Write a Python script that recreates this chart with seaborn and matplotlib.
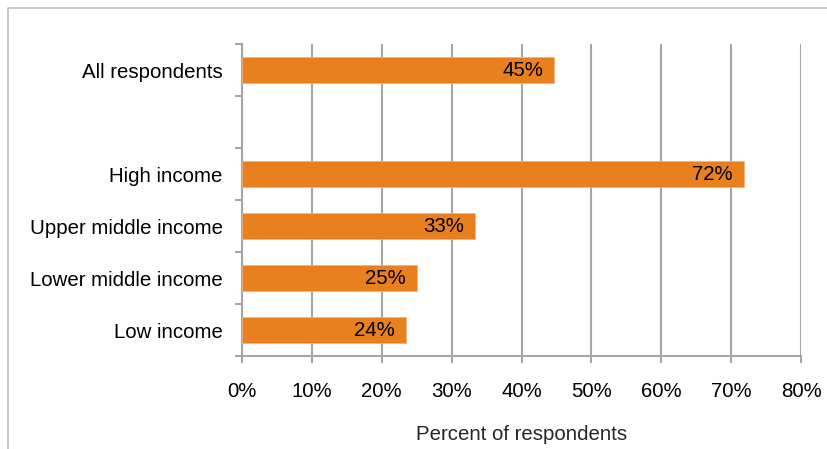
import matplotlib
matplotlib.use("Agg")
import matplotlib.pyplot as plt
import seaborn as sns
import pandas as pd
import numpy as np
from matplotlib.lines import Line2D
from matplotlib.ticker import FixedLocator, PercentFormatter

categories = ["All respondents", " ", "High income", "Upper middle income",
              "Lower middle income", "Low income"]
bar_categories = ["All respondents", "High income", "Upper middle income",
                  "Lower middle income", "Low income"]
values = [44.7, 71.8, 33.4, 25.0, 23.5]
labels = ["45%", "72%", "33%", "25%", "24%"]
xticks = [0, 10, 20, 30, 40, 50, 60, 70, 80]

sns.set_style("white")
plt.rcParams['font.family'] = ['Liberation Sans', 'DejaVu Sans']

df = pd.DataFrame({"category": bar_categories, "value": values})

fig = plt.figure(figsize=(8.27, 4.49), dpi=100)
ax = fig.add_axes([242/827, 1-356/449, (801-242)/827, (356-44)/449])

sns.barplot(data=df, y="category", x="value", order=categories, orient="h",
            color="#E8801F", saturation=1, width=0.5, ax=ax, zorder=3,
            edgecolor="#F2B27A", linewidth=0.6)

ax.set_xlim(0, 80)
ax.set_ylim(5.5, -0.5)
ax.set_xticks(xticks)
ax.xaxis.set_major_formatter(PercentFormatter(decimals=0))
ax.grid(axis="x", color="#A6A6A6", linewidth=1.5, zorder=0)
ax.set_axisbelow(True)
for s in ["top", "right"]:
    ax.spines[s].set_visible(False)
for s in ["left", "bottom"]:
    ax.spines[s].set_color("#A6A6A6")
    ax.spines[s].set_linewidth(1.5)

fs = 14.7
ax.tick_params(axis="x", direction="out", length=5, width=1.5, color="#A6A6A6",
               pad=14, labelsize=fs, labelcolor="black", bottom=True)
ax.tick_params(axis="y", which="major", length=0, pad=14, labelsize=fs,
               labelcolor="black")
ax.yaxis.set_minor_locator(FixedLocator(np.arange(-0.5, 6, 1.0)))
ax.tick_params(axis="y", which="minor", direction="out", length=5, width=1.5,
               color="#A6A6A6", left=True)

ax.set_ylabel("")
ax.set_xlabel("Percent of respondents", fontsize=fs, labelpad=17)

for cat, v, lab in zip(bar_categories, values, labels):
    ax.annotate(lab, xy=(v, categories.index(cat)), xytext=(-8, 0),
                textcoords="offset points", ha="right", va="center",
                fontsize=fs, color="black", zorder=4)

fig.add_artist(Line2D([8/827, 8/827, 1.0], [0.0, 1-8/449, 1-8/449],
                      transform=fig.transFigure, color="#BFBFBF", linewidth=1.2))

fig.savefig("out.png", dpi=100)
